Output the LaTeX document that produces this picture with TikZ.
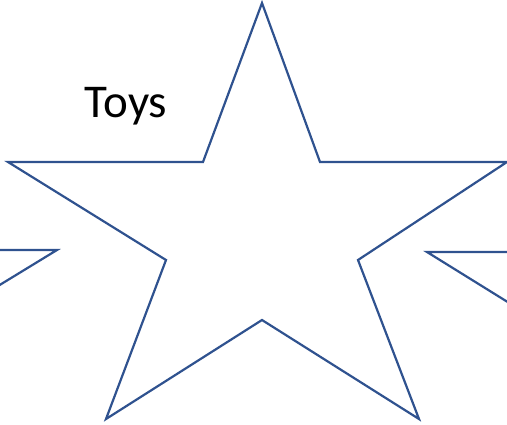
\documentclass[tikz,border=0pt]{standalone}
\usepackage{fontspec}
\setmainfont{Carlito}
\definecolor{starblue}{RGB}{47,82,143}
\begin{document}
\begin{tikzpicture}[x=1pt,y=-1pt,
  starline/.style={draw=starblue,line width=2.2pt,line join=miter}]
\useasboundingbox (0,0) rectangle (507,424);
\begin{scope}
\clip (0,0) rectangle (507,424);
% main star
\draw[starline] (262,3) -- (320,162) -- (507,162) -- (358,260) -- (419,419)
  -- (262,320) -- (106,419) -- (166,260) -- (8,162) -- (203,162) -- cycle;
% partial star, left
\draw[starline] (-20,250) -- (57,250) -- (-20,297);
% partial star, right
\draw[starline] (527,252) -- (427,252) -- (527,314);
\end{scope}
\node[font=\fontsize{47}{56}\selectfont,text=black,anchor=base,inner sep=0pt] (toys) at (126,117) {Toys};
\end{tikzpicture}
\end{document}
